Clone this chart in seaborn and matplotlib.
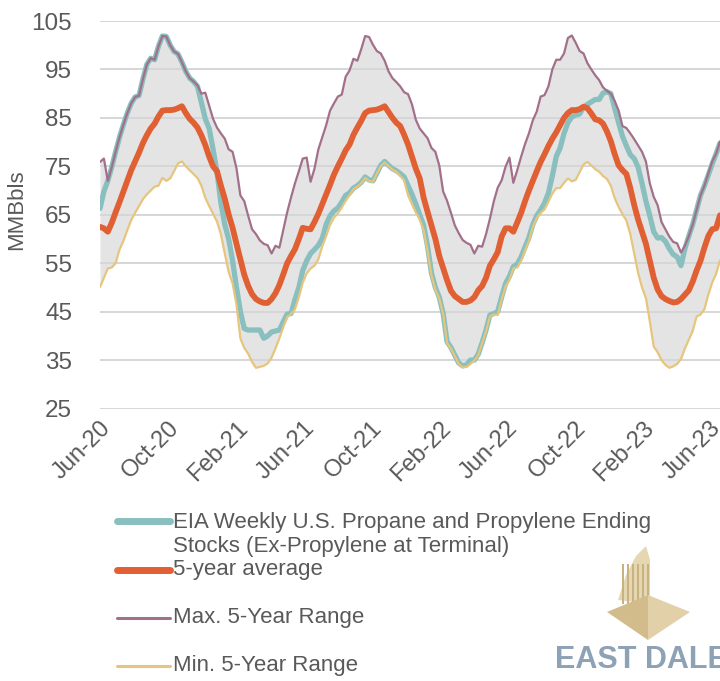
import matplotlib
matplotlib.use("Agg")
import numpy as np
import pandas as pd
import seaborn as sns
import matplotlib.pyplot as plt
import matplotlib.dates as mdates
from matplotlib.lines import Line2D
from matplotlib.patches import Polygon, Rectangle

# weekly values, first week = 2020-06-01, MMBbls
stocks = [
    66.3, 69.8, 72.0, 74.8, 78.0, 81.0, 83.6, 86.0, 88.0, 89.3,
    89.6, 93.0, 96.0, 97.3, 97.0, 99.8, 101.9, 101.8, 100.0, 98.7,
    98.2, 96.5, 94.6, 93.2, 92.5, 91.5, 88.2, 84.8, 82.8, 78.5,
    73.8, 67.5, 63.0, 60.0, 55.5, 50.0, 45.0, 41.5, 41.2, 41.2,
    41.2, 41.2, 39.5, 40.0, 40.8, 41.0, 41.2, 42.9, 44.5, 44.6,
    47.5, 50.0, 53.5, 55.5, 57.0, 57.8, 58.7, 60.1, 63.0, 64.8,
    65.8, 66.4, 67.6, 69.0, 69.5, 70.5, 71.0, 71.7, 72.8, 72.2,
    72.0, 73.6, 75.2, 76.0, 75.2, 74.5, 74.1, 73.5, 72.8, 71.0,
    69.2, 67.2, 65.0, 62.8, 58.5, 53.0, 50.0, 48.0, 44.6, 38.8,
    37.6, 36.0, 34.4, 33.8, 34.0, 35.0, 35.0, 36.2, 38.6, 41.2,
    44.3, 44.6, 45.0, 48.0, 50.8, 52.3, 54.3, 54.8, 56.3, 58.3,
    60.3, 63.0, 64.8, 66.0, 67.4, 69.5, 73.0, 77.0, 78.8, 81.8,
    84.0, 85.2, 85.6, 85.8, 87.2, 87.8, 88.3, 88.8, 88.8, 90.1,
    90.4, 90.0, 87.0, 84.0, 81.2, 79.2, 77.4, 76.6, 74.8, 71.5,
    67.8, 64.8, 61.5, 60.2, 60.3, 59.5, 58.0, 56.8, 56.3, 54.5,
    58.0, 60.6, 63.0, 66.0, 69.0, 71.0, 73.2, 75.5, 77.6, 79.8,
]

five_year_avg = [
    62.5, 62.2, 61.5, 63.3, 65.5, 67.6, 69.8, 72.0, 74.2, 76.0,
    77.8, 79.8, 81.4, 82.8, 83.8, 85.3, 86.5, 86.6, 86.6, 86.7,
    87.0, 87.4, 86.0, 84.8, 84.0, 83.0, 81.4, 79.4, 77.0, 75.0,
    74.0, 71.0, 68.3, 65.0, 62.3, 59.0, 55.8, 52.6, 50.3, 48.6,
    47.6, 47.1, 46.8, 46.8, 47.6, 48.8, 50.5, 52.7, 55.0, 56.5,
    57.9, 60.0, 62.3, 62.1, 62.0, 63.5, 65.2, 67.2, 69.2, 71.2,
    73.3, 75.0, 76.6, 78.3, 79.5, 81.5, 83.0, 84.4, 86.0, 86.5,
    86.6, 86.7, 87.0, 87.4, 86.2, 85.0, 84.0, 83.3, 81.5, 79.5,
    77.0, 74.5, 72.5, 68.5, 65.6, 62.8, 60.0, 56.5, 54.0, 51.5,
    49.3, 48.2, 47.6, 47.0, 47.0, 47.3, 48.0, 49.4, 50.3, 52.0,
    54.5, 55.8, 57.3, 60.5, 62.2, 62.2, 61.5, 63.4, 65.4, 67.8,
    70.0, 72.0, 74.0, 75.9, 77.5, 79.2, 80.7, 82.0, 83.5, 85.0,
    86.0, 86.6, 86.6, 86.8, 87.3, 87.0, 85.9, 84.7, 84.5, 83.8,
    82.2, 80.2, 77.5, 75.2, 74.2, 73.4, 70.5, 67.0, 64.0, 61.5,
    59.0, 55.5, 52.0, 49.6, 48.2, 47.6, 47.2, 46.9, 47.0, 47.6,
    48.5, 49.4, 51.2, 53.5, 55.5, 58.2, 60.6, 62.0, 62.2, 64.9,
]

max_range = [
    75.9, 76.6, 72.0, 74.8, 78.0, 81.0, 83.6, 86.0, 88.0, 89.3,
    89.6, 93.0, 96.0, 97.3, 97.0, 99.8, 101.9, 101.8, 100.0, 98.7,
    98.2, 96.5, 94.6, 93.2, 92.5, 91.7, 90.0, 90.2, 87.5, 84.8,
    83.0, 81.8, 80.7, 78.5, 78.0, 74.6, 69.0, 67.8, 64.8, 62.0,
    61.0, 59.7, 59.0, 58.7, 57.0, 58.6, 58.2, 61.8, 65.5, 68.6,
    71.5, 74.0, 76.6, 76.8, 71.8, 74.5, 78.5, 81.0, 83.5, 86.5,
    88.0, 89.4, 89.8, 93.5, 94.8, 97.2, 96.8, 99.2, 101.9, 101.7,
    100.1, 98.8, 98.3, 96.8, 94.6, 93.2, 92.4, 91.5, 90.3, 89.9,
    87.8, 84.6, 82.8, 81.8, 80.8, 78.8, 78.0, 75.2, 69.8, 67.9,
    65.4, 62.8, 61.2, 59.8, 59.2, 58.8, 57.0, 58.6, 58.4, 61.0,
    64.2, 67.8, 70.6, 72.1, 74.9, 76.8, 71.6, 74.2, 77.0, 79.6,
    81.8, 84.5, 86.3, 89.4, 89.7, 91.5, 95.0, 97.0, 97.0, 98.3,
    101.5, 102.0, 100.5, 98.8, 98.3, 96.3, 95.0, 93.8, 92.8, 91.3,
    90.6, 90.0, 88.5, 86.5, 83.3, 82.9, 81.8, 80.6, 79.3, 78.0,
    76.0, 71.5, 68.7, 67.0, 63.5, 62.0, 60.5, 59.4, 59.1, 57.2,
    58.6, 60.6, 63.0, 66.0, 69.0, 71.0, 73.5, 76.0, 77.6, 80.1,
]

min_range = [
    50.1, 52.0, 53.9, 54.1, 55.0, 57.8, 59.6, 61.8, 63.9, 65.4,
    66.8, 68.2, 69.2, 70.0, 70.8, 71.0, 72.6, 72.0, 72.5, 74.0,
    75.6, 76.0, 75.0, 74.2, 73.4, 72.6, 71.0, 68.5, 66.8, 65.2,
    63.6, 61.0, 57.0, 53.2, 50.8, 46.5, 39.5, 37.5, 36.3, 34.6,
    33.4, 33.6, 33.8, 34.3, 35.5, 37.4, 39.5, 41.8, 43.9, 44.5,
    45.5, 48.0, 51.0, 52.9, 53.9, 54.5, 55.8, 58.5, 60.6, 62.9,
    64.4, 65.3, 66.5, 67.9, 69.0, 70.3, 70.8, 71.5, 72.6, 72.0,
    71.8, 73.5, 75.0, 75.8, 75.0, 74.3, 73.9, 73.0, 72.1, 69.0,
    67.2, 65.5, 64.0, 61.8, 57.5, 52.5, 49.5, 47.7, 44.5, 38.5,
    37.4, 35.8, 34.2, 33.5, 33.6, 34.2, 34.9, 36.0, 38.5, 40.9,
    44.0, 44.4, 44.3, 47.5, 50.2, 51.5, 53.9, 54.1, 55.5, 57.6,
    59.6, 62.5, 64.3, 65.4, 66.1, 67.7, 69.4, 70.5, 70.5, 71.6,
    72.5, 71.9, 72.2, 73.8, 75.4, 75.9, 75.2, 74.4, 73.9, 73.0,
    72.4, 71.0, 68.4, 66.6, 65.1, 63.8, 61.0, 57.0, 53.0, 50.0,
    47.8, 43.0, 37.8, 36.6, 35.0, 34.0, 33.4, 33.7, 34.2, 35.2,
    37.4, 39.2, 41.0, 44.0, 44.4, 45.5, 48.5, 51.0, 52.8, 55.6,
]

y_ticks = [25, 35, 45, 55, 65, 75, 85, 95, 105]
labels = [
    "EIA Weekly U.S. Propane and Propylene Ending\nStocks (Ex-Propylene at Terminal)",
    "5-year average",
    "Max. 5-Year Range",
    "Min. 5-Year Range",
]

TEAL = "#89bfbe"
ORANGE = "#e05f33"
PURPLE = "#a2708a"
GOLD = "#e6c67d"
FILL = "#e4e4e4"
GRID = "#d6d6d6"
TXT = "#595959"

weeks = pd.date_range("2020-06-01", periods=len(stocks), freq="7D")
df = pd.DataFrame({"date": weeks, "stocks": stocks, "avg": five_year_avg,
                   "max": max_range, "min": min_range})

sns.set_theme(style="white")
plt.rcParams["font.family"] = ["Liberation Sans", "DejaVu Sans"]

W, H = 720, 681
fig = plt.figure(figsize=(7.2, 6.81), dpi=100)
ax = fig.add_axes([100 / W, 1 - 408.5 / H, 620 / W, 387.5 / H])

ax.fill_between(df["date"], df["min"], df["max"], color=FILL, lw=0, zorder=1)
sns.lineplot(data=df, x="date", y="stocks", color=TEAL, lw=3.8, ax=ax, zorder=3)
sns.lineplot(data=df, x="date", y="avg", color=ORANGE, lw=4.2, ax=ax, zorder=4)
sns.lineplot(data=df, x="date", y="max", color=PURPLE, lw=1.6, ax=ax, zorder=5)
sns.lineplot(data=df, x="date", y="min", color=GOLD, lw=1.6, ax=ax, zorder=5)

ax.set_ylim(25, 105)
ax.set_yticks(y_ticks)
ax.set_xlim(weeks[0], weeks[-1])
ax.xaxis.set_major_locator(mdates.MonthLocator(bymonth=[2, 6, 10]))
ax.xaxis.set_major_formatter(mdates.DateFormatter("%b-%y"))
ax.grid(axis="y", color=GRID, lw=1.4, zorder=2)
ax.grid(axis="x", visible=False)
ax.set_axisbelow(False)
sns.despine(ax=ax, left=True, bottom=True)
ax.set_xlabel("")
ax.set_ylabel("")
ax.tick_params(axis="y", length=0, pad=20, labelsize=17.5, labelcolor=TXT)
ax.tick_params(axis="x", length=0, pad=6, labelsize=17, labelcolor=TXT)
for lab in ax.get_xticklabels():
    lab.set_rotation(45)
    lab.set_ha("right")
    lab.set_rotation_mode("anchor")

fig.text(16.5 / W, 1 - 210 / H, "MMBbls", rotation=90, ha="center", va="center",
         fontsize=16, color=TXT)

# legend, drawn by hand to keep the uneven row spacing
def fx(x):
    return x / W

def fy(y):
    return 1 - y / H

rows = [(521, TEAL, 5.0), (570, ORANGE, 5.0), (618, PURPLE, 2.2), (666, GOLD, 2.2)]
for (y, c, lw), lab in zip(rows, labels):
    fig.add_artist(Line2D([fx(117), fx(170)], [fy(y), fy(y)], color=c, lw=lw,
                          solid_capstyle="round", transform=fig.transFigure))
    ty = y + 13.5 if "\n" in lab else y
    fig.text(fx(173), fy(ty), lab, ha="left", va="center", fontsize=16,
             color=TXT, linespacing=1.2, transform=fig.transFigure)

# logo
tower = [(618, 600), (626, 575), (636, 556), (646, 546), (650, 560), (650, 604)]
fig.add_artist(Polygon([(fx(x), fy(y)) for x, y in tower], closed=True,
                       facecolor="#e6d7b3", edgecolor="none", transform=fig.transFigure))
for x0 in range(622, 650, 5):
    fig.add_artist(Rectangle((fx(x0), fy(604)), 1.5 / W, 40 / H, facecolor="#c9b27f",
                             edgecolor="none", transform=fig.transFigure))
base_l = [(607, 612), (648, 595), (648, 640)]
base_r = [(648, 595), (690, 612), (648, 640)]
fig.add_artist(Polygon([(fx(x), fy(y)) for x, y in base_l], closed=True,
                       facecolor="#d3bc8c", edgecolor="none", transform=fig.transFigure))
fig.add_artist(Polygon([(fx(x), fy(y)) for x, y in base_r], closed=True,
                       facecolor="#e2d1a8", edgecolor="none", transform=fig.transFigure))
fig.text(fx(555), fy(660), "EAST DALEY", ha="left", va="center", fontsize=22,
         fontweight="bold", color="#8ea2b6")

fig.savefig("out.png", dpi=100)
